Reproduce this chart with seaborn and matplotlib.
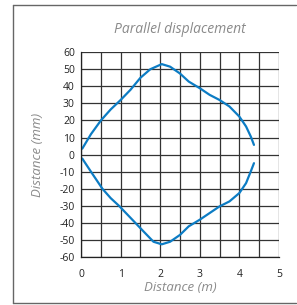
import matplotlib
matplotlib.use('Agg')
import matplotlib.pyplot as plt
import seaborn as sns
import numpy as np
import pandas as pd
from matplotlib.lines import Line2D

upper_x = [0.03, 0.25, 0.5, 0.75, 1.0, 1.25, 1.5, 1.75, 2.04, 2.25, 2.5, 2.72, 3.0, 3.25, 3.5, 3.75, 4.0, 4.17, 4.29, 4.37]
upper_y = [3.5, 12, 20, 26.5, 32, 38, 45, 50, 53, 51.5, 47.5, 42.8, 38.9, 35, 32, 28.2, 22.3, 16.5, 10.6, 5.7]
lower_x = [0.03, 0.25, 0.54, 0.75, 0.96, 1.25, 1.58, 1.83, 2.04, 2.25, 2.5, 2.72, 3.0, 3.25, 3.5, 3.75, 4.0, 4.17, 4.29, 4.37]
lower_y = [-2.3, -10, -20, -25.5, -30, -37, -45, -51, -52.5, -51, -47, -42, -38.1, -34.2, -30.3, -27.4, -22.5, -16.7, -9.8, -5]

x_ticks = [0, 1, 2, 3, 4, 5]
y_ticks = list(range(-60, 61, 10))

df = pd.DataFrame({
    'x': upper_x + lower_x,
    'y': upper_y + lower_y,
    'branch': ['upper'] * len(upper_x) + ['lower'] * len(lower_x),
})

sns.set_style('white')
plt.rcParams['font.family'] = ['Open Sans', 'DejaVu Sans']
plt.rcParams['axes.unicode_minus'] = False

fig = plt.figure(figsize=(2.97, 3.05), dpi=100)
ax = fig.add_axes([0.273, 0.157, 0.666, 0.672])

sns.lineplot(data=df, x='x', y='y', units='branch', estimator=None, sort=False,
             color='#0c7cc4', linewidth=1.6, ax=ax)

ax.set_xlim(0, 5)
ax.set_ylim(-60, 60)
ax.set_xticks(x_ticks)
ax.set_xticks(np.arange(0.5, 5, 1.0), minor=True)
ax.set_yticks(y_ticks)
ax.grid(True, which='both', color='#333333', linewidth=0.9)
ax.set_axisbelow(True)
ax.tick_params(axis='both', which='major', direction='inout', length=5, width=0.9,
               labelsize=7.5, labelcolor='#222222', color='#222222', pad=2)
ax.tick_params(axis='x', which='minor', length=0)
ax.tick_params(axis='x', which='major', pad=6)
for s in ['top', 'right']:
    ax.spines[s].set_visible(False)
for s in ['left', 'bottom']:
    ax.spines[s].set_color('#222222')
    ax.spines[s].set_linewidth(0.9)

ax.set_xlabel('Distance (m)', fontsize=9.5, style='italic', color='#8a8a8a', labelpad=1)
ax.set_ylabel('Distance (mm)', fontsize=9.5, style='italic', color='#8a8a8a', labelpad=11)
ax.set_title('Parallel displacement', fontsize=10, style='italic', color='#8a8a8a', pad=14)

# outer frame
frame_kw = dict(transform=fig.transFigure, color='#666666', linewidth=1.0)
fig.add_artist(Line2D([0.045, 0.045], [0.007, 0.984], **frame_kw))
fig.add_artist(Line2D([0.045, 0.995], [0.984, 0.984], **frame_kw))
fig.add_artist(Line2D([0.045, 0.995], [0.007, 0.007], **frame_kw))

fig.savefig('out.png', dpi=100)
